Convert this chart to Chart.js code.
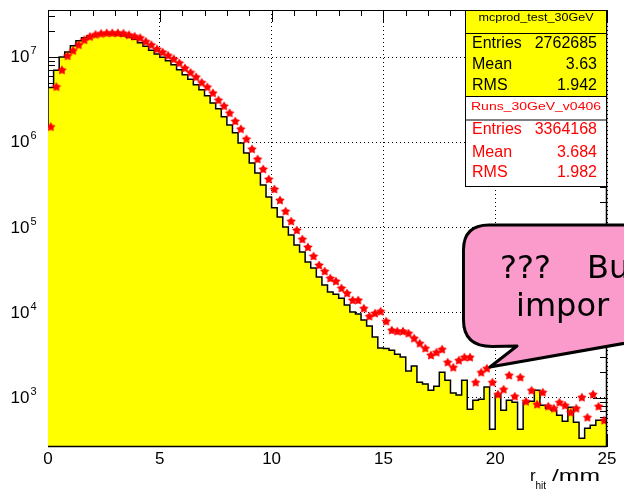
<!DOCTYPE html>
<html>
<head>
<meta charset="utf-8">
<title>r_hit</title>
<script src="https://cdn.jsdelivr.net/npm/chart.js@4.4.1/dist/chart.umd.min.js"></script>
<style>
  html, body { margin: 0; padding: 0; background: #fff; }
</style>
</head>
<body>
<canvas id="hits" width="624" height="490"></canvas>
<script>
// r_hit in 0.25 mm bins from 0 to 25 mm
const binWidth = 0.25;
const nBins = 100;

// mcprod_test_30GeV, filled histogram
const mcCounts = [
  1.50e6, 4.40e6, 7.00e6, 1.00e7, 1.15e7, 1.36e7, 1.55e7, 1.69e7, 1.78e7, 1.83e7,
  1.85e7, 1.85e7, 1.85e7, 1.83e7, 1.78e7, 1.71e7, 1.62e7, 1.47e7, 1.34e7, 1.20e7,
  1.09e7, 9.95e6, 9.05e6, 8.12e6, 7.09e6, 6.19e6, 5.48e6, 4.73e6, 4.13e6, 3.51e6,
  2.90e6, 2.47e6, 1.99e6, 1.60e6, 1.29e6, 9.84e5, 7.50e5, 5.73e5, 4.37e5, 3.16e5,
  2.28e5, 1.70e5, 1.33e5, 1.01e5, 8.16e4, 6.23e4, 5.15e4, 3.93e4, 3.34e4, 2.62e4,
  2.11e4, 1.75e4, 1.65e4, 1.48e4, 1.23e4, 1.02e4, 9630, 8190, 6960, 5170,
  3840, 3800, 3630, 3260, 3010, 2060, 2360, 1530, 1450, 1230,
  1370, 2000, 1610, 1140, 1080, 1610, 736, 939, 965, 1340,
  429, 1080, 717, 939, 889, 429, 889, 914, 1230, 820,
  756, 717, 626, 532, 777, 518, 336, 440, 477, 547
];

// Runs_30GeV_v0406, markers
const runCounts = [
  1.53e6, 4.51e6, 7.09e6, 1.04e7, 1.20e7, 1.40e7, 1.60e7, 1.75e7, 1.85e7, 1.90e7,
  1.93e7, 1.93e7, 1.93e7, 1.91e7, 1.83e7, 1.76e7, 1.69e7, 1.53e7, 1.40e7, 1.25e7,
  1.15e7, 1.05e7, 9.55e6, 8.57e6, 7.48e6, 6.63e6, 5.87e6, 5.06e6, 4.48e6, 3.81e6,
  3.15e6, 2.68e6, 2.22e6, 1.78e6, 1.44e6, 1.10e6, 8.37e5, 6.38e5, 4.87e5, 3.71e5,
  2.83e5, 2.10e5, 1.56e5, 1.19e5, 9.35e4, 7.32e4, 5.90e4, 4.63e4, 3.63e4, 3.08e4,
  2.55e4, 2.35e4, 1.95e4, 1.70e4, 1.41e4, 1.41e4, 1.13e4, 9120, 9890, 10400,
  7960, 6250, 6080, 6080, 5760, 5030, 4390, 3840, 3180, 3440,
  3730, 2630, 2290, 2770, 3010, 3010, 1530, 2000, 2230, 1530,
  1105, 1265, 1850, 1047, 1750, 914, 1230, 843, 1166, 799,
  756, 889, 820, 679, 756, 1019, 593, 1105, 799, 547
];

const xTicks = [0, 5, 10, 15, 20, 25];
const yDecades = [1e3, 1e4, 1e5, 1e6, 1e7];

const mcStatRows = [['Entries', '2762685'], ['Mean', '3.63'], ['RMS', '1.942']];
const runStatRows = [['Entries', '3364168'], ['Mean', '3.684'], ['RMS', '1.982']];

const binEdges = Array.from({ length: nBins + 1 }, (_, i) => i * binWidth);
const histPoints = binEdges.map((x, i) => ({ x, y: mcCounts[Math.min(i, nBins - 1)] }));
const runPoints = runCounts.map((y, i) => ({ x: binEdges[i] + binWidth / 2, y }));

const SANS = '"Liberation Sans", Arial, Helvetica, sans-serif';

// filled star like ROOT marker 29
function starMarker(r, color) {
  const c = document.createElement('canvas');
  const s = Math.ceil(r * 2) + 2;
  c.width = c.height = s;
  const g = c.getContext('2d');
  g.fillStyle = color;
  g.beginPath();
  for (let k = 0; k < 10; k++) {
    const rad = k % 2 ? r * 0.55 : r;
    const a = -Math.PI / 2 + k * Math.PI / 5;
    const px = s / 2 + rad * Math.cos(a), py = s / 2 + 0.5 + rad * Math.sin(a);
    if (k) g.lineTo(px, py); else g.moveTo(px, py);
  }
  g.closePath();
  g.fill();
  return c;
}

function put(ctx, str, x, y, font, color, align, width) {
  ctx.save();
  ctx.font = font;
  ctx.fillStyle = color;
  ctx.textBaseline = 'middle';
  ctx.textAlign = align;
  const sx = width ? width / ctx.measureText(str).width : 1;
  ctx.translate(x, y);
  ctx.scale(sx, 1);
  ctx.fillText(str, 0, 0);
  ctx.restore();
}

function statBox(ctx, top, titleH, bottom, fill, color, title, titleY, titleW, rows, rowY) {
  const L = 465.5, R = 606.5;
  ctx.fillStyle = fill;
  ctx.fillRect(L, top, R - L, bottom - top);
  ctx.strokeStyle = '#000';
  ctx.lineWidth = 1;
  ctx.strokeRect(L, top, R - L, bottom - top);
  ctx.beginPath();
  ctx.moveTo(L, top + titleH); ctx.lineTo(R, top + titleH);
  ctx.stroke();
  put(ctx, title, (L + R) / 2, titleY, '11px ' + SANS, color, 'center', titleW);
  rows.forEach(([k, v], i) => {
    put(ctx, k, 472, rowY[i], '16px ' + SANS, color, 'left');
    put(ctx, v, 597, rowY[i], '16px ' + SANS, color, 'right');
  });
}

const rootFrame = {
  id: 'rootFrame',
  beforeDatasetsDraw(chart) {
    const { ctx, chartArea: a, scales: { x, y } } = chart;
    ctx.save();
    ctx.strokeStyle = '#000';
    ctx.lineWidth = 1;
    ctx.strokeRect(a.left + 0.5, a.top + 0.5, a.right - a.left - 1, a.bottom - a.top - 1);
    ctx.beginPath();
    for (let v = 0; v <= 25; v++) {
      const px = Math.round(x.getPixelForValue(v)) + 0.5;
      const len = v % 5 === 0 ? 12 : 6;
      ctx.moveTo(px, a.top); ctx.lineTo(px, a.top + len);
      ctx.moveTo(px, a.bottom); ctx.lineTo(px, a.bottom - len);
    }
    for (let e = 2; e <= 7; e++) {
      for (let k = 1; k <= 9; k++) {
        const v = k * Math.pow(10, e);
        if (v < y.min || v > y.max) continue;
        const py = Math.round(y.getPixelForValue(v)) + 0.5;
        const len = k === 1 ? 14 : 7;
        ctx.moveTo(a.left, py); ctx.lineTo(a.left + len, py);
        ctx.moveTo(a.right, py); ctx.lineTo(a.right - len, py);
      }
    }
    ctx.stroke();
    ctx.restore();
  },
  afterDraw(chart) {
    const { ctx, chartArea: a, scales: { y } } = chart;
    ctx.save();
    // axis lines over the fill
    ctx.strokeStyle = '#000';
    ctx.lineWidth = 1.5;
    ctx.beginPath();
    ctx.moveTo(a.left, a.bottom - 0.5); ctx.lineTo(a.right, a.bottom - 0.5);
    ctx.moveTo(a.right - 0.5, a.top); ctx.lineTo(a.right - 0.5, a.bottom);
    ctx.stroke();

    // decade labels 10^n
    yDecades.forEach(v => {
      const py = y.getPixelForValue(v);
      put(ctx, '10', 29.5, py + 0.5, '17px ' + SANS, '#000', 'right');
      put(ctx, String(Math.round(Math.log10(v))), 30.5, py - 6, '11px ' + SANS, '#000', 'left');
    });

    // axis title r_hit /mm
    put(ctx, 'r', 530, 476, '17px ' + SANS, '#000', 'left');
    put(ctx, 'hit', 535.5, 486, '10px ' + SANS, '#000', 'left');
    put(ctx, '/mm', 552, 477, '16px ' + SANS, '#000', 'left', 48);

    // stat boxes
    statBox(ctx, 10.5, 23, 96.5, '#ffff00', '#000', 'mcprod_test_30GeV', 17.5, 115, mcStatRows, [43.7, 64.2, 85.8]);
    statBox(ctx, 96.5, 23.5, 186.5, '#ffffff', '#ff0000', 'Runs_30GeV_v0406', 107, 130, runStatRows, [130, 152.5, 172.5]);

    // callout
    ctx.beginPath();
    ctx.moveTo(660, 225);
    ctx.lineTo(489, 225);
    ctx.quadraticCurveTo(463.5, 225, 463.5, 250);
    ctx.lineTo(463.5, 320);
    ctx.quadraticCurveTo(463.5, 346.5, 492, 346.5);
    ctx.lineTo(517, 346);
    ctx.lineTo(490, 367);
    ctx.lineTo(660, 337);
    ctx.closePath();
    ctx.fillStyle = '#fa9bcc';
    ctx.fill();
    ctx.lineWidth = 3;
    ctx.lineJoin = 'round';
    ctx.strokeStyle = '#000';
    ctx.stroke();
    ctx.fillStyle = '#000';
    ctx.font = '32px "DejaVu Sans", Verdana, sans-serif';
    ctx.textAlign = 'left';
    ctx.textBaseline = 'alphabetic';
    ctx.fillText('???', 500, 278);
    ctx.fillText('Bu', 587, 278);
    ctx.fillText('impor', 516, 316);
    ctx.restore();
  }
};

new Chart(document.getElementById('hits'), {
  type: 'line',
  data: {
    datasets: [
      {
        label: 'Runs_30GeV_v0406',
        data: runPoints,
        showLine: false,
        pointStyle: starMarker(5, '#ff0000'),
        pointRadius: 5,
        order: 0
      },
      {
        label: 'mcprod_test_30GeV',
        data: histPoints,
        stepped: 'after',
        borderColor: '#000',
        borderWidth: 1.5,
        backgroundColor: '#ffff00',
        fill: 'start',
        pointRadius: 0,
        order: 1
      }
    ]
  },
  options: {
    responsive: false,
    animation: false,
    layout: { padding: { left: 0, right: 17, top: 10, bottom: 0 } },
    plugins: { legend: { display: false }, tooltip: { enabled: false } },
    scales: {
      x: {
        type: 'linear',
        min: 0,
        max: 25,
        afterBuildTicks: s => { s.ticks = xTicks.map(v => ({ value: v })); },
        afterFit: s => { s.height = 43; },
        grid: { color: '#000', lineWidth: 1, drawTicks: false },
        border: { display: false, dash: [1, 3] },
        ticks: { color: '#000', font: { family: SANS, size: 17 }, padding: 2, maxRotation: 0 }
      },
      y: {
        type: 'logarithmic',
        min: 265,
        max: 3.57e7,
        afterBuildTicks: s => { s.ticks = yDecades.map(v => ({ value: v })); },
        afterFit: s => { s.width = 48; },
        grid: { color: '#000', lineWidth: 1, drawTicks: false },
        border: { display: false, dash: [1, 3] },
        ticks: { display: false }
      }
    }
  },
  plugins: [rootFrame]
});
</script>
</body>
</html>
